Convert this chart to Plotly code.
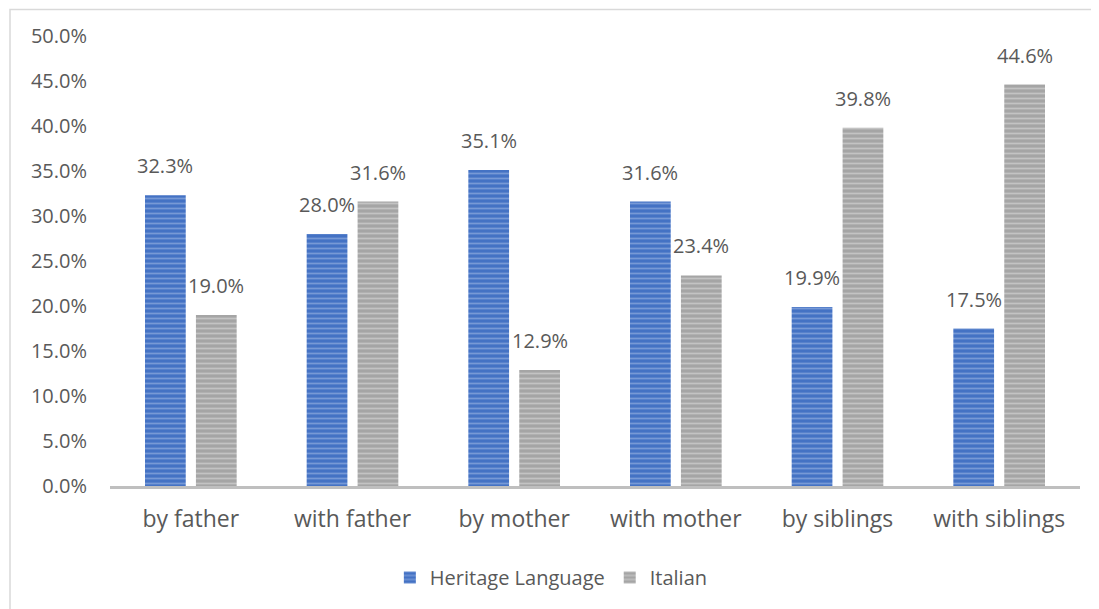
import plotly.graph_objects as go

categories = ["by father", "with father", "by mother", "with mother", "by siblings", "with siblings"]
heritage = [0.323, 0.280, 0.351, 0.316, 0.199, 0.175]
italian = [0.190, 0.316, 0.129, 0.234, 0.398, 0.446]
y_ticks = [i * 0.05 for i in range(11)]

FONT = "Open Sans"
TEXT = "#595959"

# the page has an 8px body margin, so work in figure pixels = window pixels - 8
OFF = 8
W, H = 1099, 609
L, R, T, B = 110 - OFF, 1099 - (1080 - OFF), 36 - OFF, 609 - (486 - OFF)
pw, ph = W - L - R, H - T - B


def px_x(x):
    return (x - OFF - L) / pw


def px_y(y):
    return (H - B - (y - OFF)) / ph


fig = go.Figure()
fig.add_trace(go.Bar(
    x=categories, y=heritage, name="Heritage Language",
    marker=dict(color="#4472C4", line=dict(width=0),
                pattern=dict(shape="-", fgcolor="#A9BFE8", size=5, solidity=0.35)),
))
fig.add_trace(go.Bar(
    x=categories, y=italian, name="Italian",
    marker=dict(color="#A5A5A5", line=dict(width=0),
                pattern=dict(shape="-", fgcolor="#E2E2E2", size=5, solidity=0.35)),
))

# data labels above each bar (group offset = half a bar slot)
slot = pw / len(categories) * (1 - 0.37) / 2
annotations = []
for series, shift in ((heritage, -slot / 2), (italian, slot / 2)):
    for cat, v in zip(categories, series):
        annotations.append(dict(x=cat, y=v, xref="x", yref="y", text=f"{v:.1%}",
                                showarrow=False, xshift=shift, yshift=14, yanchor="bottom",
                                font=dict(size=20, color=TEXT, family=FONT)))

fig.update_layout(
    width=W, height=H,
    margin=dict(l=L, r=R, t=T, b=B, autoexpand=False),
    paper_bgcolor="white", plot_bgcolor="white",
    barmode="group", bargap=0.37, bargroupgap=0.2,
    font=dict(family=FONT, color=TEXT, size=20),
    showlegend=True,
    legend=dict(orientation="h", x=0.455, xanchor="center", y=-0.16, yanchor="top",
                font=dict(size=20, color=TEXT), traceorder="normal"),
    xaxis=dict(showgrid=False, showline=True, linecolor="#BFBFBF", linewidth=3,
               ticks="", ticklabelstandoff=10, tickfont=dict(size=23, color=TEXT)),
    yaxis=dict(range=[0, 0.5], tickvals=y_ticks, tickformat=".1%", showgrid=False,
               zeroline=False, showline=False, ticks="", ticklabelstandoff=22,
               tickfont=dict(size=20, color=TEXT)),
    annotations=annotations,
    # chart frame: only its top and left edges fall inside the window
    shapes=[dict(type="rect", xref="paper", yref="paper",
                 x0=px_x(10), x1=px_x(1130), y0=px_y(640), y1=px_y(9.5),
                 line=dict(color="#D9D9D9", width=1.5), fillcolor="rgba(0,0,0,0)", layer="below")],
)

fig.write_html("out.html")
